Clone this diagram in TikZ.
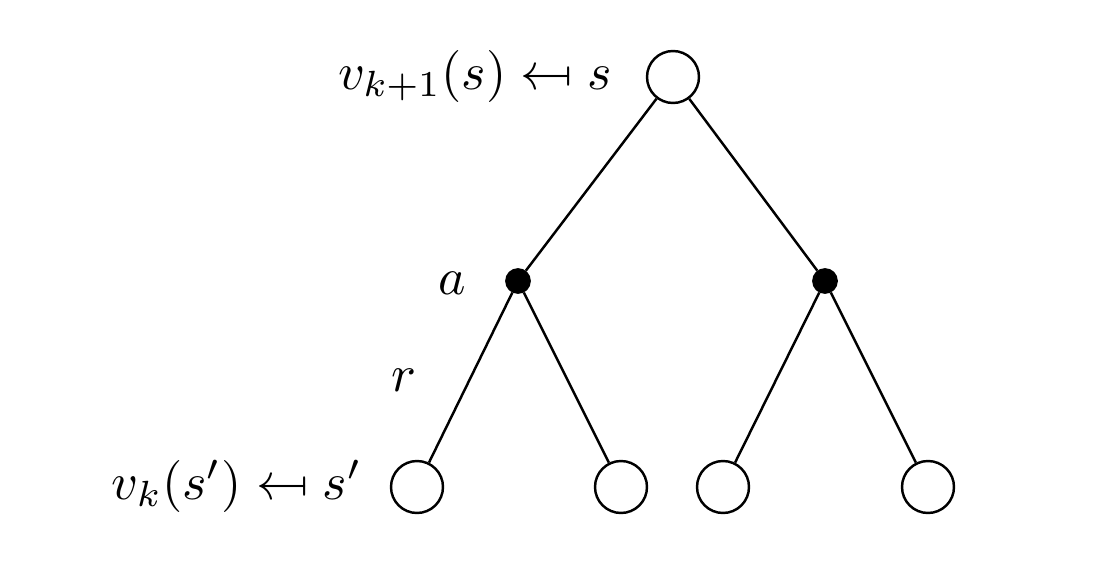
\documentclass[tikz,border=0pt]{standalone}
\usepackage{graphicx}
\newcommand{\mymapsfrom}{\mathrel{\reflectbox{$\mapsto$}}}
\newcommand{\myscaled}[1]{\scalebox{2.96}{#1}}
\begin{document}
\begin{tikzpicture}[x=0.02cm,y=-0.02cm,
  state/.style={circle,draw,line width=1.4pt,minimum size=1.04cm,inner sep=0pt,fill=white},
  act/.style={circle,fill=black,draw,line width=1pt,minimum size=0.48cm,inner sep=0pt},
  lbl/.style={font=\normalsize,inner sep=0pt},
  edge/.style={line width=1.4pt}]
\useasboundingbox (0,0) rectangle (1116,568);
\node[state] (s) at (673,77) {};
\node[act] (a1) at (518,281) {};
\node[act] (a2) at (825,281) {};
\node[state] (b1) at (417,487) {};
\node[state] (b2) at (621,487) {};
\node[state] (b3) at (723,487) {};
\node[state] (b4) at (928,487) {};
\draw[edge] (s) -- (a1);
\draw[edge] (s) -- (a2);
\draw[edge] (a1) -- (b1);
\draw[edge] (a1) -- (b2);
\draw[edge] (a2) -- (b3);
\draw[edge] (a2) -- (b4);
\node[lbl,anchor=east] (ls) at (612,76) {\myscaled{$v_{k+1}(s) \mymapsfrom s$}};
\node[lbl] (la) at (452,283) {\myscaled{$a$}};
\node[lbl] (lr) at (404,380) {\myscaled{$r$}};
\node[lbl,anchor=east] (lb) at (362,486) {\myscaled{$v_k(s') \mymapsfrom s'$}};
\end{tikzpicture}
\end{document}
